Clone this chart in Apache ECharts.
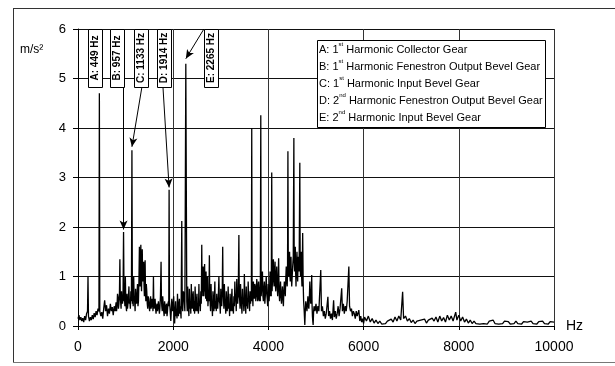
<!DOCTYPE html>
<html>
<head>
<meta charset="utf-8">
<script src="https://cdn.jsdelivr.net/npm/echarts@6/dist/echarts.min.js"></script>
<style>
  html, body { margin: 0; padding: 0; background: #fff; }
  #chart { width: 615px; height: 366px; }
</style>
</head>
<body>
<div id="chart"></div>
<script>
// Vibration spectrum, acceleration (m/s²) against frequency (Hz).
// Spectrum samples as [frequency Hz, acceleration m/s²], split by band.
const band0to2k = [
  [0,0.15],[20,0.22],[40,0.12],[60,0.18],[80,0.1],[100,0.16],[120,0.08],[140,0.2],[160,0.12],[180,0.25],
  [200,0.3],[210,1.0],[220,0.2],[240,0.1],[260,0.18],[280,0.12],[300,0.22],[320,0.14],[340,0.26],[360,0.18],
  [380,0.3],[400,0.22],[420,0.35],[440,0.3],[458,0.3],[480,0.2],[500,0.28],[520,0.15],[540,0.35],[560,0.52],
  [580,0.3],[600,0.42],[620,0.2],[640,0.35],[660,0.25],[680,0.45],[700,0.3],[720,0.38],[740,0.22],[760,0.4],
  [780,0.3],[800,0.48],[810,0.3],[820,0.4],[830,0.65],[840,0.6],[850,0.35],[860,0.45],[870,0.6],[880,1.35],
  [888,0.6],[895,0.5],[905,0.35],[915,0.7],[925,0.5],[935,0.45],[946,0.6],[968,0.5],[975,0.6],[985,0.4],
  [995,1.0],[1003,0.55],[1010,0.4],[1020,0.3],[1030,0.65],[1040,0.35],[1050,0.45],[1060,0.6],[1070,0.8],[1080,0.45],
  [1090,0.5],[1100,0.35],[1110,0.7],[1122,0.5],[1143,0.45],[1150,0.6],[1160,0.4],[1170,1.0],[1180,0.55],[1190,0.5],
  [1200,0.3],[1210,0.75],[1220,0.5],[1230,0.45],[1240,0.65],[1250,0.85],[1260,0.4],[1270,0.5],[1280,0.9],[1290,1.6],
  [1298,1.0],[1305,0.8],[1312,1.2],[1320,1.64],[1328,0.9],[1335,0.7],[1342,1.1],[1350,1.55],[1358,1.0],[1365,0.9],
  [1372,1.1],[1380,1.3],[1388,0.8],[1395,0.6],[1402,0.9],[1410,1.33],[1418,0.7],[1425,0.5],[1435,0.85],[1445,0.7],
  [1455,0.45],[1465,0.35],[1475,0.6],[1485,0.55],[1495,0.4],[1505,0.3],[1515,0.45],[1525,0.6],[1535,0.35],[1545,0.4],
  [1555,0.55],[1565,0.5],[1575,0.3],[1585,1.0],[1592,0.5],[1600,0.35],[1610,0.5],[1620,0.55],[1630,0.35],[1640,0.25],
  [1650,0.4],[1660,0.45],[1670,0.3],[1680,0.3],[1690,0.5],[1700,0.5],[1710,0.25],[1720,0.35],[1732,0.6],[1745,1.3],
  [1752,0.6],[1760,0.4],[1770,0.3],[1780,0.6],[1790,0.45],[1800,0.3],[1810,0.2],[1820,0.5],[1830,0.35],[1840,0.25],
  [1850,0.4],[1860,0.45],[1870,0.2],[1880,0.3],[1890,0.45],[1900,0.5],[1907,0.4],[1922,0.5],[1930,0.4],[1940,0.25],
  [1950,0.1],[1960,0.3],[1970,0.55],[1980,0.4],[1990,0.3]
];
const band2kto4k = [
  [2010,0.6],[2020,0.25],[2030,0.05],[2040,0.3],[2050,0.5],[2060,0.2],[2070,0.35],[2080,0.15],[2090,0.65],[2100,0.35],
  [2110,0.2],[2120,0.45],[2130,0.55],[2140,0.25],[2150,0.4],[2165,0.15],[2180,2.12],[2190,0.4],[2200,0.3],[2215,0.7],
  [2230,0.6],[2245,0.3],[2285,0.5],[2295,0.3],[2305,0.8],[2312,0.3],[2320,0.4],[2330,0.2],[2340,0.75],[2350,0.35],
  [2360,0.5],[2370,0.25],[2380,0.85],[2390,0.5],[2400,0.35],[2410,0.6],[2420,0.7],[2430,0.3],[2440,0.5],[2450,0.25],
  [2460,0.8],[2470,0.5],[2480,0.3],[2490,0.5],[2500,0.65],[2510,0.3],[2520,0.45],[2530,0.25],[2540,0.85],[2550,0.4],
  [2560,0.5],[2570,0.3],[2580,0.7],[2590,0.45],[2600,1.64],[2608,0.7],[2615,0.9],[2622,0.6],[2630,1.2],[2638,0.75],
  [2645,0.6],[2652,0.9],[2660,1.25],[2668,0.7],[2675,0.8],[2682,0.55],[2690,1.1],[2698,0.6],[2705,0.5],[2712,0.8],
  [2720,1.0],[2730,0.4],[2740,0.6],[2750,0.5],[2760,1.43],[2768,0.6],[2775,0.5],[2785,0.3],[2795,0.85],[2805,0.45],
  [2815,0.4],[2825,0.2],[2835,0.7],[2845,0.5],[2855,0.3],[2865,0.55],[2875,0.9],[2885,0.35],[2895,0.5],[2905,0.3],
  [2915,0.65],[2925,0.45],[2935,0.35],[2947,0.55],[2960,1.0],[2970,0.5],[2980,0.45],[2990,0.25],[3000,0.75],[3010,0.5],
  [3020,0.4],[3030,0.65],[3040,1.6],[3048,0.7],[3055,0.6],[3065,0.35],[3075,0.85],[3085,0.5],[3095,0.4],[3105,0.25],
  [3115,0.7],[3125,0.45],[3135,0.3],[3145,0.5],[3155,0.8],[3165,0.35],[3175,0.45],[3185,0.2],[3195,0.65],[3205,0.4],
  [3215,0.3],[3225,0.55],[3235,0.75],[3245,0.3],[3255,0.45],[3265,0.25],[3275,0.6],[3285,0.4],[3295,0.9],[3305,0.55],
  [3315,0.5],[3325,0.3],[3335,0.95],[3345,0.6],[3355,0.45],[3367,0.7],[3380,1.84],[3388,0.6],[3395,0.55],[3405,0.35],
  [3415,0.85],[3425,0.55],[3435,0.4],[3445,0.25],[3455,0.75],[3465,0.45],[3475,0.5],[3485,0.3],[3495,1.05],[3505,0.6],
  [3515,0.4],[3525,0.25],[3535,0.8],[3545,0.4],[3555,0.55],[3565,0.35],[3575,0.9],[3585,0.6],[3595,0.5],[3605,0.3],
  [3615,0.7],[3625,0.45],[3635,0.6],[3642,0.5],[3650,4.0],[3658,0.5],[3665,0.7],[3675,0.4],[3685,0.9],[3695,0.65],
  [3705,0.55],[3715,0.85],[3725,0.8],[3735,0.5],[3745,0.6],[3755,0.95],[3765,0.85],[3775,0.5],[3785,0.55],[3795,0.9],
  [3805,0.75],[3812,0.5],[3820,0.6],[3830,0.5],[3840,4.26],[3848,0.6],[3855,0.7],[3865,0.9],[3875,1.1],[3885,0.6],
  [3895,0.5],[3905,0.75],[3915,0.9],[3925,0.45],[3935,0.6],[3945,0.8],[3955,1.0],[3965,0.65],[3975,0.55],[3985,0.4],
  [3995,0.85]
];
const band4kto6k = [
  [4005,0.6],[4015,0.5],[4025,0.75],[4035,1.1],[4042,0.6],[4050,0.8],[4060,0.6],[4070,3.1],[4078,0.7],[4085,0.9],
  [4095,1.2],[4105,1.35],[4112,0.9],[4120,0.8],[4130,1.1],[4140,1.3],[4148,0.8],[4155,0.7],[4165,1.0],[4175,1.2],
  [4185,0.8],[4195,0.6],[4205,0.95],[4215,1.37],[4225,0.7],[4235,0.5],[4245,0.7],[4255,0.9],[4265,0.6],[4275,0.45],
  [4285,0.65],[4295,0.8],[4305,0.55],[4315,0.4],[4325,0.7],[4335,0.9],[4345,0.75],[4355,0.6],[4365,0.95],[4375,1.2],
  [4385,0.9],[4395,0.8],[4402,1.1],[4410,3.53],[4418,1.2],[4425,1.0],[4435,1.3],[4445,1.5],[4452,1.0],[4460,0.9],
  [4468,1.2],[4475,1.4],[4482,1.0],[4490,0.8],[4500,1.0],[4510,1.2],[4522,1.4],[4535,3.8],[4542,1.3],[4550,1.1],
  [4558,1.4],[4565,1.6],[4572,1.1],[4580,0.8],[4590,1.2],[4600,1.5],[4608,1.1],[4615,0.9],[4622,1.2],[4630,1.4],
  [4645,1.1],[4660,3.3],[4668,1.2],[4675,1.0],[4682,1.3],[4690,1.5],[4698,1.0],[4705,0.8],[4712,1.2],[4720,1.88],
  [4730,0.9],[4740,0.5],[4752,0.3],[4765,0.02],[4775,0.3],[4785,0.5],[4798,0.4],[4810,0.3],[4820,0.45],[4830,0.6],
  [4840,0.4],[4850,0.35],[4860,0.55],[4870,0.9],[4880,0.6],[4890,0.45],[4900,0.6],[4910,1.03],[4918,0.4],[4925,0.2],
  [4932,0.1],[4940,0.02],[4950,0.3],[4960,0.4],[4980,0.3],[5000,0.45],[5020,0.25],[5040,0.4],[5060,0.3],[5100,1.13],
  [5115,0.3],[5135,0.4],[5155,0.2],[5175,0.3],[5195,0.15],[5215,0.25],[5250,0.59],[5265,0.2],[5285,0.3],[5305,0.15],
  [5325,0.25],[5345,0.12],[5370,0.52],[5385,0.18],[5405,0.3],[5425,0.15],[5445,0.25],[5465,0.4],[5485,0.2],[5505,0.35],
  [5540,0.76],[5555,0.3],[5575,0.45],[5595,0.25],[5615,0.4],[5635,0.3],[5655,0.5],[5690,1.2],[5705,0.4],[5725,0.3],
  [5745,0.35],[5765,0.2],[5785,0.3],[5805,0.25],[5825,0.15],[5845,0.3],[5865,0.2],[5900,0.32],[5920,0.1],[5940,0.2],
  [5960,0.08],[5980,0.15],[6000,0.05]
];
const band6kto10k = [
  [6020,0.18],[6060,0.1],[6100,0.2],[6140,0.08],[6180,0.15],[6220,0.06],[6260,0.12],[6300,0.05],[6340,0.1],[6380,0.04],
  [6420,0.08],[6460,0.05],[6500,0.1],[6540,0.06],[6580,0.14],[6620,0.08],[6660,0.18],[6700,0.1],[6740,0.2],[6780,0.12],
  [6820,0.69],[6840,0.15],[6880,0.2],[6920,0.1],[6960,0.15],[7000,0.07],[7040,0.12],[7080,0.05],[7120,0.1],[7160,0.06],
  [7200,0.12],[7240,0.08],[7280,0.14],[7320,0.06],[7360,0.12],[7400,0.08],[7440,0.16],[7480,0.1],[7520,0.18],[7560,0.08],
  [7600,0.2],[7640,0.1],[7680,0.17],[7720,0.08],[7760,0.22],[7800,0.12],[7840,0.2],[7880,0.1],[7935,0.28],[7960,0.12],
  [8000,0.22],[8040,0.1],[8080,0.18],[8120,0.08],[8160,0.14],[8200,0.06],[8240,0.12],[8280,0.05],[8320,0.1],[8360,0.05],
  [8400,0.08],[8440,0.04],[8480,0.07],[8520,0.05],[8560,0.08],[8600,0.04],[8640,0.1],[8680,0.06],[8720,0.12],[8760,0.05],
  [8800,0.09],[8840,0.04],[8880,0.08],[8920,0.05],[8960,0.1],[9000,0.06],[9040,0.09],[9080,0.04],[9120,0.08],[9160,0.05],
  [9200,0.1],[9240,0.05],[9280,0.08],[9320,0.04],[9360,0.09],[9400,0.05],[9440,0.08],[9480,0.04],[9520,0.1],[9560,0.05],
  [9600,0.08],[9640,0.04],[9680,0.09],[9720,0.06],[9760,0.1],[9800,0.05],[9840,0.08],[9880,0.04],[9920,0.09],[9960,0.06],
  [10000,0.08]
];

// Gear mesh peaks that carry a tag.
const gearLetters = ['A', 'B', 'C', 'D', 'E'];
const gearFreqHz = [449, 957, 1133, 1914, 2265];
const gearPeakAccel = [4.7, 1.9, 3.55, 2.75, 5.3];
const gearHarmonic = ['1', '1', '1', '2', '2'];
const gearOrdinal = ['st', 'st', 'st', 'nd', 'nd'];
const gearNames = ['Collector Gear', 'Fenestron Output Bevel Gear', 'Input Bevel Gear',
                   'Fenestron Output Bevel Gear', 'Input Bevel Gear'];

const xTicks = [0, 2000, 4000, 6000, 8000, 10000];
const yTicks = [0, 1, 2, 3, 4, 5, 6];

// Tag layout: box centre frequency, and where each leader line leaves its box.
const tagCentreHz = [367, 829, 1322, 1816, 2802];
const tagBottom = 4.83;
const leaderStart = [null, [957, 4.83], [1343, 4.83], [1785, 4.83], [2645, 6.0]];
const leaderTipGap = [0, 0.05, 0.07, 0.05, 0.1];

const spectrum = band0to2k.concat(band2kto4k, band4kto6k, band6kto10k,
  gearFreqHz.map((f, i) => [f, gearPeakAccel[i]]))
  .sort((a, b) => a[0] - b[0]);

const leaders = [];
leaderStart.forEach((s, i) => {
  if (!s) return;
  leaders.push([{ coord: s }, { coord: [gearFreqHz[i], gearPeakAccel[i] + leaderTipGap[i]] }]);
});

const legendText = gearLetters.map((L, i) =>
  `${L}: ${gearHarmonic[i]}{sup|${gearOrdinal[i]}} Harmonic ${gearNames[i]}`).join('\n');

const FONT = 'Arial, "Liberation Sans", sans-serif';
const chart = echarts.init(document.getElementById('chart'), null, { renderer: 'canvas' });

const option = {
  animation: false,
  backgroundColor: '#fff',
  title: {
    text: legendText,
    left: 317,
    top: 40,
    padding: [1, 3, 2, 2],
    backgroundColor: '#fff',
    borderColor: '#000',
    borderWidth: 1,
    z: 10,
    textStyle: {
      fontFamily: FONT,
      fontSize: 11,
      fontWeight: 'normal',
      color: '#000',
      lineHeight: 17,
      rich: {
        sup: { fontSize: 6, lineHeight: 14, verticalAlign: 'top', color: '#000', fontFamily: FONT }
      }
    }
  },
  grid: { left: 78, right: 61, top: 29, bottom: 40, containLabel: false },
  xAxis: {
    type: 'value',
    min: xTicks[0],
    max: xTicks[xTicks.length - 1],
    interval: xTicks[1] - xTicks[0],
    name: 'Hz',
    nameLocation: 'end',
    nameGap: 12,
    nameTextStyle: { fontSize: 14, color: '#000', fontFamily: FONT },
    axisLine: { show: true, lineStyle: { color: '#000', width: 1 } },
    axisTick: { show: true, length: 4, lineStyle: { color: '#000' } },
    axisLabel: { fontSize: 14, color: '#000', margin: 14, fontFamily: FONT,
                 formatter: v => String(v) },
    splitLine: { show: true, lineStyle: { color: '#333', width: 1 } }
  },
  yAxis: {
    type: 'value',
    min: yTicks[0],
    max: yTicks[yTicks.length - 1],
    interval: yTicks[1] - yTicks[0],
    axisLine: { show: true, lineStyle: { color: '#000', width: 1 } },
    axisTick: { show: true, length: 5, lineStyle: { color: '#000' } },
    axisLabel: { fontSize: 13, color: '#000', margin: 12, fontFamily: FONT },
    splitLine: { show: true, lineStyle: { color: '#111', width: 1 } }
  },
  series: [{
    type: 'line',
    data: spectrum,
    showSymbol: false,
    symbol: 'none',
    sampling: false,
    lineStyle: { color: '#000', width: 1.3 },
    z: 3,
    silent: true,
    markLine: {
      silent: true,
      symbol: ['none', 'arrow'],
      symbolSize: [6, 9],
      label: { show: false },
      lineStyle: { color: '#000', width: 1, type: 'solid' },
      emphasis: { disabled: true },
      data: leaders
    }
  }],
  graphic: []
};

chart.setOption(option);

// Vertical frequency tags above the peaks, plus the outer frame.
function drawOverlay() {
  const els = [];
  const tagW = 14;
  gearLetters.forEach((L, i) => {
    const top = chart.convertToPixel({ gridIndex: 0 }, [tagCentreHz[i], yTicks[yTicks.length - 1]]);
    const bot = chart.convertToPixel({ gridIndex: 0 }, [tagCentreHz[i], tagBottom]);
    const cx = Math.round(top[0]) + 0.5;
    els.push({
      type: 'rect', z: 20,
      shape: { x: cx - tagW / 2, y: Math.round(top[1]) + 0.5, width: tagW, height: Math.round(bot[1] - top[1]) },
      style: { fill: '#fff', stroke: '#000', lineWidth: 1 }
    });
    els.push({
      type: 'text', z: 21,
      x: cx, y: (top[1] + bot[1]) / 2,
      rotation: Math.PI / 2,
      style: {
        text: `${L}: ${gearFreqHz[i]} Hz`,
        font: 'bold 10px ' + FONT,
        fill: '#000', align: 'center', verticalAlign: 'middle'
      }
    });
  });
  els.push({
    type: 'text', z: 20, x: 20, y: 50,
    style: { text: 'm/s²', font: '12px ' + FONT, fill: '#000', align: 'left', verticalAlign: 'middle' }
  });
  const frame = { stroke: '#333', lineWidth: 1 };
  els.push({ type: 'line', z: 20, shape: { x1: 13, y1: 8.5, x2: 615, y2: 8.5 }, style: frame });
  els.push({ type: 'line', z: 20, shape: { x1: 13.5, y1: 8, x2: 13.5, y2: 362 }, style: frame });
  els.push({ type: 'line', z: 20, shape: { x1: 13, y1: 362.5, x2: 615, y2: 362.5 }, style: { stroke: '#777', lineWidth: 1 } });
  chart.setOption({ graphic: els });
}
drawOverlay();
</script>
</body>
</html>
